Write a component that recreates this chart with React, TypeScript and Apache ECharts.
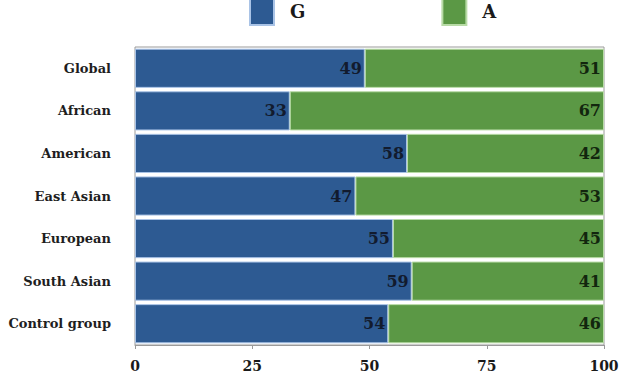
import React, { useEffect, useRef } from "react";
import * as echarts from "echarts";

const categories = ["Global", "African", "American", "East Asian", "European", "South Asian", "Control group"];
const gValues = [49, 33, 58, 47, 55, 59, 54];
const aValues = [51, 67, 42, 53, 45, 41, 46];
const xTicks = [0, 25, 50, 75, 100];

const FONT = "'DejaVu Serif', 'Liberation Serif', serif";

export default function App() {
  const ref = useRef<HTMLDivElement>(null);
  useEffect(() => {
    if (!ref.current) return;
    const chart = echarts.init(ref.current, undefined, { renderer: "svg" });
    chart.setOption({
      animation: false,
      backgroundColor: "#ffffff",
      legend: {
        data: ["G", "A"],
        left: 244,
        top: -8,
        itemWidth: 24,
        itemHeight: 27,
        itemGap: 136,
        icon: "rect",
        textStyle: {
          fontFamily: FONT,
          fontWeight: "bold",
          fontSize: 18,
          color: "#1a1a1a",
          padding: [6, 0, 0, 11],
        },
      },
      grid: {
        left: 135,
        right: 27,
        top: 47,
        bottom: 37,
        show: true,
        borderColor: "#9a9a9a",
        borderWidth: 1,
      },
      xAxis: {
        type: "value",
        min: xTicks[0],
        max: xTicks[xTicks.length - 1],
        interval: 25,
        axisLine: { show: true, lineStyle: { color: "#9a9a9a" } },
        axisTick: { show: true, length: 4, lineStyle: { color: "#9a9a9a" } },
        splitLine: { show: false },
        axisLabel: {
          fontFamily: FONT,
          fontWeight: "bold",
          fontSize: 14,
          color: "#1a1a1a",
          margin: 14,
        },
      },
      yAxis: {
        type: "category",
        data: categories,
        inverse: true,
        axisLine: { show: false },
        axisTick: { show: false },
        axisLabel: {
          fontFamily: FONT,
          fontWeight: "bold",
          fontSize: 13,
          color: "#1e1e1e",
          margin: 24,
        },
      },
      series: [
        {
          name: "G",
          type: "bar",
          stack: "total",
          data: gValues,
          barCategoryGap: "8%",
          itemStyle: { color: "#2d5a92", borderColor: "#a9c3e6", borderWidth: 1 },
          label: {
            show: true,
            position: "insideRight",
            distance: 3,
            fontFamily: FONT,
            fontWeight: "bold",
            fontSize: 16,
            color: "#121b2e",
          },
        },
        {
          name: "A",
          type: "bar",
          stack: "total",
          data: aValues,
          barCategoryGap: "8%",
          itemStyle: { color: "#5b9845", borderColor: "#b8dba6", borderWidth: 1 },
          label: {
            show: true,
            position: "insideRight",
            distance: 3,
            fontFamily: FONT,
            fontWeight: "bold",
            fontSize: 16,
            color: "#12260e",
          },
        },
      ],
    });
    return () => chart.dispose();
  }, []);
  return <div ref={ref} style={{ width: 631, height: 382, position: "absolute", left: 0, top: 0 }} />;
}
